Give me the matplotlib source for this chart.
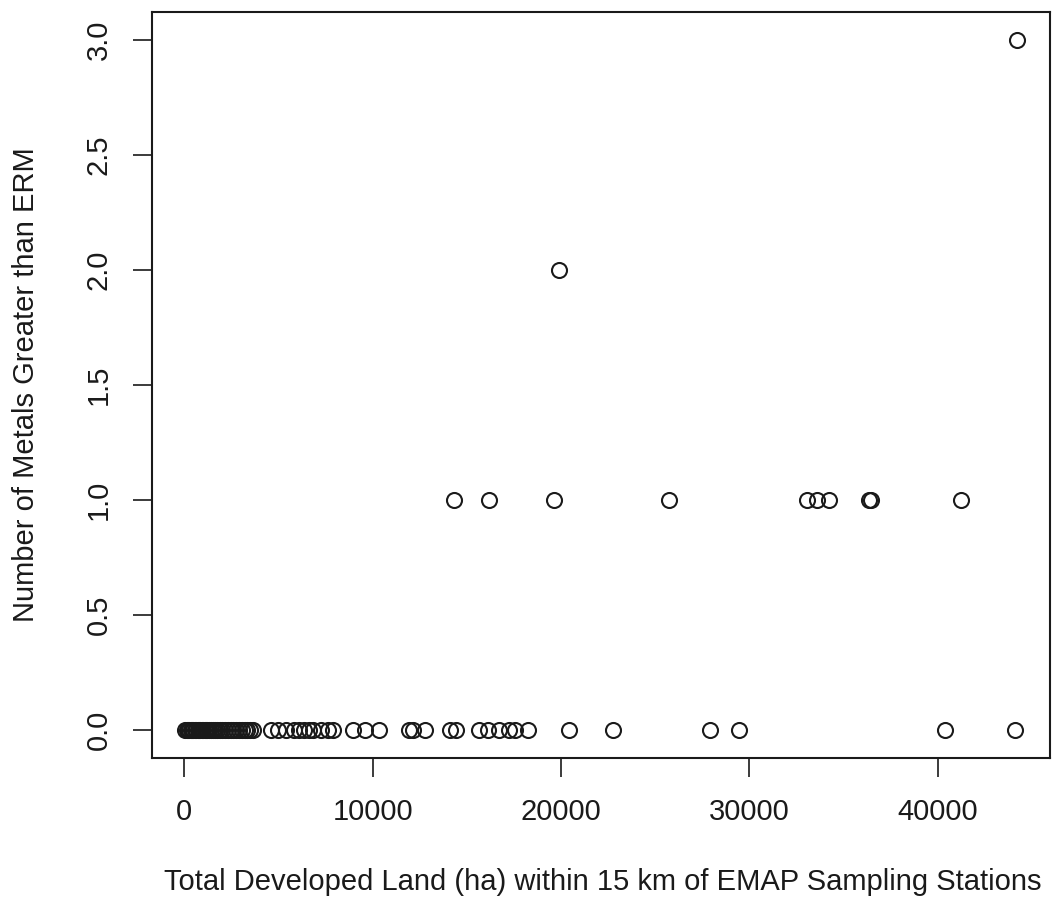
import matplotlib
matplotlib.use("Agg")
import matplotlib.pyplot as plt
import numpy as np

plt.rcParams['font.family'] = ['Liberation Sans', 'DejaVu Sans']

# stations with zero metals above ERM (developed land, ha)
land_zero = [50, 120, 200, 260, 330, 400, 480, 550, 610, 700, 760, 850, 920,
             1000, 1080, 1150, 1230, 1320, 1400, 1500, 1620, 1750, 1880, 2000,
             2150, 2300, 2480, 2600, 2750, 2900, 3050, 3200, 3350, 3500, 3650,
             4615, 4987, 5411, 5836, 6101, 6366, 6631, 6844, 7268, 7639, 7905,
             8966, 9602, 10345, 11936, 12149, 12785, 14111, 14430, 15650,
             16127, 16711, 17241, 17560, 18249, 20424, 22759, 27905, 29443,
             40371, 44085]
# stations with one metal above ERM
land_one = [14324, 16180, 19629, 25729, 33050, 33581, 34218, 36340, 36446, 41220]
# two and three metals
land_two = [19894]
land_three = [44190]

x = np.array(land_zero + land_one + land_two + land_three, dtype=float)
y = np.array([0] * len(land_zero) + [1] * len(land_one)
             + [2] * len(land_two) + [3] * len(land_three), dtype=float)

fig = plt.figure(figsize=(10.63, 9.07), dpi=100)
ax = fig.add_axes([152 / 1063, 1 - 758 / 907, 898 / 1063, 746 / 907])

ink = '#1a1a1a'
fs = 21
ax.plot(x, y, 'o', mfc='none', mec=ink, ms=10.8, mew=1.5)
ax.margins(x=0.04, y=0.04)

ax.set_xticks([0, 10000, 20000, 30000, 40000])
ax.set_yticks([0.0, 0.5, 1.0, 1.5, 2.0, 2.5, 3.0])
ax.set_yticklabels(['0.0', '0.5', '1.0', '1.5', '2.0', '2.5', '3.0'],
                   rotation=90, va='center')
ax.tick_params(direction='out', length=13.5, width=1.2, color=ink,
               labelsize=fs, labelcolor=ink, pad=15)
for s in ax.spines.values():
    s.set_linewidth(1.5)
    s.set_color(ink)

fig.text(603 / 1063, 1 - 882 / 907,
         'Total Developed Land (ha) within 15 km of EMAP Sampling Stations',
         ha='center', va='center', fontsize=fs, color=ink)
fig.text(26 / 1063, 1 - 385 / 907, 'Number of Metals Greater than ERM',
         ha='center', va='center', rotation=90, fontsize=fs, color=ink)

fig.savefig('out.png', dpi=100, facecolor='white')
